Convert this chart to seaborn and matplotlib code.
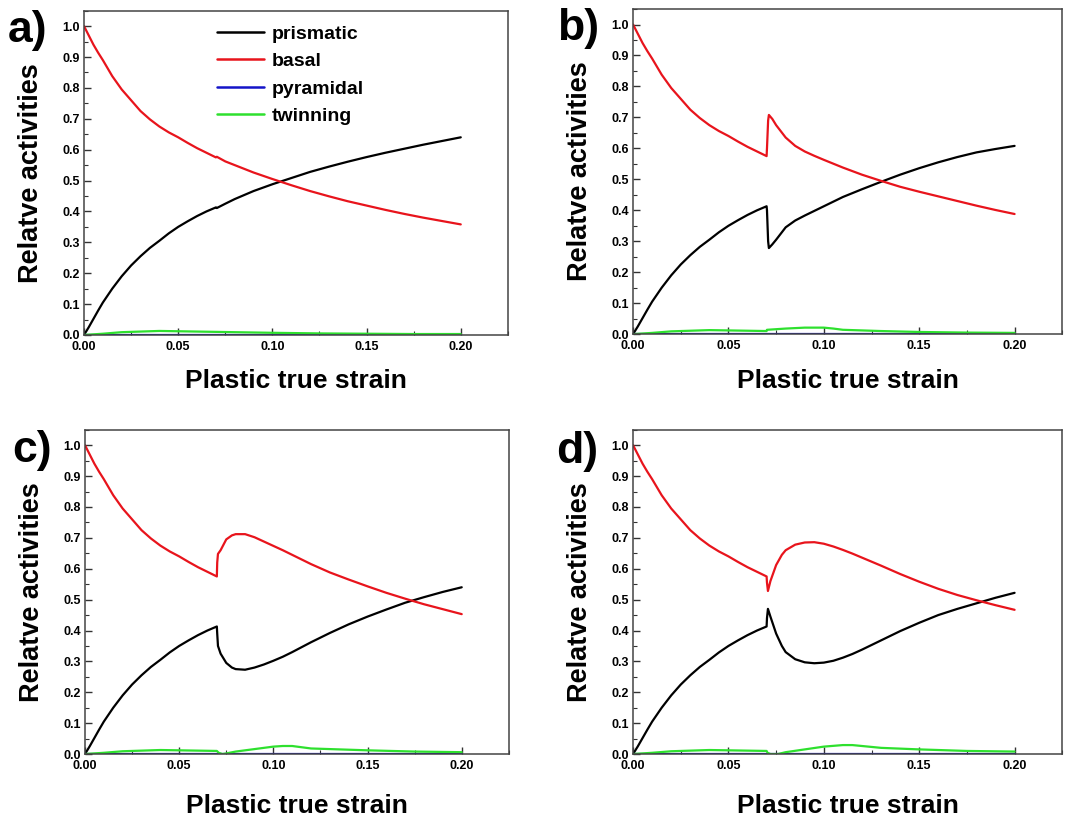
import numpy as np
import pandas as pd
import matplotlib
matplotlib.use("Agg")
import matplotlib.pyplot as plt
from matplotlib.ticker import MultipleLocator
import seaborn as sns

# ---------------- data ----------------
modes = ["prismatic", "basal", "pyramidal", "twinning"]
colors = ["black", "#e8141c", "#1414c8", "#2ee02e"]
panel_labels = ["a)", "b)", "c)", "d)"]

# common segment up to strain 0.07
pre_x = [0.0, 0.0025, 0.005, 0.0075, 0.01, 0.015, 0.02, 0.025, 0.03, 0.035,
         0.04, 0.045, 0.05, 0.055, 0.06, 0.065, 0.07]
pre_prism = [0.0, 0.025, 0.052, 0.079, 0.105, 0.150, 0.190, 0.225, 0.255, 0.282,
             0.305, 0.329, 0.350, 0.368, 0.385, 0.400, 0.413]
pre_basal = [1.0, 0.970, 0.940, 0.914, 0.890, 0.838, 0.795, 0.760, 0.725, 0.698,
             0.675, 0.656, 0.640, 0.622, 0.605, 0.590, 0.575]
pre_twin_x = [0.0, 0.01, 0.02, 0.03, 0.04, 0.05, 0.06, 0.07]
pre_twin = [0.0, 0.004, 0.009, 0.011, 0.013, 0.012, 0.011, 0.010]

# panel a)
a_x = [0.0705, 0.075, 0.08, 0.09, 0.10, 0.11, 0.12, 0.13, 0.14, 0.15, 0.16, 0.17, 0.18, 0.19, 0.20]
a_prism = [0.411, 0.425, 0.440, 0.466, 0.488, 0.508, 0.528, 0.545, 0.561, 0.576, 0.590, 0.603, 0.616, 0.628, 0.640]
a_basal = [0.577, 0.562, 0.550, 0.526, 0.505, 0.485, 0.466, 0.449, 0.433, 0.419, 0.405, 0.392, 0.380, 0.369, 0.358]
a_twin_x = [0.08, 0.10, 0.125, 0.15, 0.175, 0.20]
a_twin = [0.009, 0.007, 0.005, 0.004, 0.003, 0.003]

# panel b)
b_x = [0.0702, 0.0708, 0.0712, 0.073, 0.075, 0.08, 0.085, 0.09, 0.095, 0.10, 0.11, 0.12, 0.13,
       0.14, 0.15, 0.16, 0.17, 0.18, 0.19, 0.20]
b_prism = [0.400, 0.300, 0.278, 0.290, 0.305, 0.345, 0.367, 0.383, 0.398, 0.413, 0.443, 0.468, 0.492,
           0.515, 0.536, 0.555, 0.572, 0.587, 0.598, 0.608]
b_basal = [0.600, 0.690, 0.708, 0.695, 0.675, 0.635, 0.608, 0.590, 0.576, 0.563, 0.538, 0.515, 0.495,
           0.476, 0.460, 0.445, 0.430, 0.415, 0.401, 0.388]
b_twin_x = [0.0702, 0.08, 0.09, 0.10, 0.105, 0.11, 0.12, 0.13, 0.15, 0.175, 0.20]
b_twin = [0.014, 0.018, 0.021, 0.021, 0.018, 0.014, 0.012, 0.010, 0.007, 0.005, 0.004]

# panel c)
c_x = [0.0702, 0.0706, 0.072, 0.075, 0.078, 0.08, 0.085, 0.09, 0.095, 0.10, 0.105, 0.11, 0.12,
       0.13, 0.14, 0.15, 0.16, 0.17, 0.18, 0.19, 0.20]
c_prism = [0.390, 0.350, 0.325, 0.295, 0.280, 0.275, 0.273, 0.280, 0.290, 0.302, 0.315, 0.330, 0.362,
           0.392, 0.420, 0.445, 0.468, 0.490, 0.508, 0.525, 0.540]
c_basal = [0.620, 0.648, 0.660, 0.695, 0.708, 0.712, 0.712, 0.702, 0.688, 0.674, 0.660, 0.645, 0.615,
           0.588, 0.565, 0.543, 0.522, 0.503, 0.485, 0.469, 0.453]
c_twin_x = [0.071, 0.073, 0.075, 0.08, 0.09, 0.10, 0.105, 0.11, 0.115, 0.12, 0.13, 0.15, 0.175, 0.20]
c_twin = [0.004, 0.0, 0.002, 0.008, 0.016, 0.024, 0.026, 0.026, 0.022, 0.018, 0.016, 0.012, 0.008, 0.006]

# panel d)
d_x = [0.0702, 0.0707, 0.072, 0.075, 0.078, 0.08, 0.085, 0.09, 0.095, 0.10, 0.105, 0.11, 0.115,
       0.12, 0.13, 0.14, 0.15, 0.16, 0.17, 0.18, 0.19, 0.20]
d_prism = [0.440, 0.470, 0.445, 0.390, 0.350, 0.330, 0.307, 0.297, 0.294, 0.296, 0.302, 0.312, 0.324,
           0.338, 0.368, 0.398, 0.425, 0.450, 0.470, 0.488, 0.506, 0.522]
d_basal = [0.555, 0.528, 0.560, 0.612, 0.645, 0.660, 0.678, 0.685, 0.686, 0.681, 0.672, 0.661, 0.649,
           0.636, 0.610, 0.583, 0.558, 0.535, 0.515, 0.498, 0.482, 0.467]
d_twin_x = [0.0705, 0.072, 0.076, 0.08, 0.09, 0.10, 0.11, 0.115, 0.12, 0.13, 0.15, 0.175, 0.20]
d_twin = [0.004, 0.0, 0.0, 0.006, 0.015, 0.024, 0.029, 0.029, 0.026, 0.020, 0.015, 0.010, 0.008]

pyr_x = [0.0, 0.05, 0.10, 0.15, 0.20]
pyr_y = [0.0, 0.0, 0.0, 0.0, 0.0]

x_ticks = [0.00, 0.05, 0.10, 0.15, 0.20]
y_ticks = [0.0, 0.1, 0.2, 0.3, 0.4, 0.5, 0.6, 0.7, 0.8, 0.9, 1.0]

panels = [
    (a_x, a_prism, a_basal, a_twin_x, a_twin),
    (b_x, b_prism, b_basal, b_twin_x, b_twin),
    (c_x, c_prism, c_basal, c_twin_x, c_twin),
    (d_x, d_prism, d_basal, d_twin_x, d_twin),
]


def panel_frame(px, pp, pb, tx, tw):
    rows = []
    for x, y in zip(pre_x + px, pre_prism + pp):
        rows.append(("prismatic", x, y))
    for x, y in zip(pre_x + px, pre_basal + pb):
        rows.append(("basal", x, y))
    for x, y in zip(pyr_x, pyr_y):
        rows.append(("pyramidal", x, y))
    for x, y in zip(pre_twin_x + tx, pre_twin + tw):
        rows.append(("twinning", x, y))
    return pd.DataFrame(rows, columns=["mode", "strain", "activity"])


# ---------------- figure ----------------
sns.set_theme(style="white")
plt.rcParams["font.family"] = ["Liberation Sans", "DejaVu Sans"]
plt.rcParams["font.weight"] = "bold"
plt.rcParams["text.color"] = "black"
plt.rcParams["axes.labelcolor"] = "black"
plt.rcParams["xtick.color"] = "black"
plt.rcParams["ytick.color"] = "black"

fig = plt.figure(figsize=(10.73, 8.23), dpi=100)

ax_rects = [
    [0.0783, 0.593, 0.395, 0.394],
    [0.590, 0.594, 0.400, 0.395],
    [0.0792, 0.0838, 0.395, 0.394],
    [0.590, 0.0838, 0.400, 0.394],
]
xlabel_y = [-0.105, -0.108, -0.123, -0.123]
letter_pos = [(0.007, 0.988), (0.519, 0.990), (0.011, 0.478), (0.518, 0.476)]

palette = dict(zip(modes, colors))

for i, (rect, data) in enumerate(zip(ax_rects, panels)):
    ax = fig.add_axes(rect)
    df = panel_frame(*data)
    sns.lineplot(data=df, x="strain", y="activity", hue="mode", hue_order=modes,
                 palette=palette, estimator=None, sort=False, linewidth=1.6,
                 legend=(i == 0), ax=ax)
    ax.set_xlim(0, 0.225)
    ax.set_ylim(0, 1.05)
    ax.set_xticks(x_ticks)
    ax.set_xticklabels([f"{v:.2f}" for v in x_ticks])
    ax.set_yticks(y_ticks)
    ax.set_yticklabels([f"{v:.1f}" for v in y_ticks])
    ax.xaxis.set_minor_locator(MultipleLocator(0.025))
    ax.yaxis.set_minor_locator(MultipleLocator(0.05))
    ax.tick_params(which="both", direction="in", bottom=True, left=True,
                   top=False, right=False, color="#333333")
    ax.tick_params(which="major", length=5, width=1.0)
    ax.tick_params(which="minor", length=3, width=0.8)
    ax.tick_params(axis="x", which="major", pad=4.5, labelsize=9, labelcolor="black")
    ax.tick_params(axis="y", which="major", pad=3, labelsize=9, labelcolor="black")
    for lab in ax.get_xticklabels() + ax.get_yticklabels():
        lab.set_fontweight("bold")
    for sp in ax.spines.values():
        sp.set_color("#444444")
        sp.set_linewidth(1.1)
    ax.set_xlabel("Plastic true strain", fontsize=19, fontweight="bold", color="black")
    ax.set_ylabel("Relatve activities", fontsize=19.5, fontweight="bold", color="black")
    ax.xaxis.set_label_coords(0.5, xlabel_y[i])
    ax.xaxis.label.set_va("top")
    ax.yaxis.set_label_coords(-0.094, 0.5)
    fig.text(letter_pos[i][0], letter_pos[i][1], panel_labels[i], fontsize=32,
             fontweight="bold", va="top", ha="left", color="black")
    if i == 0:
        leg = ax.legend(loc="upper left", bbox_to_anchor=(0.313, 0.955), frameon=False,
                        fontsize=14, handlelength=2.45, handletextpad=0.4,
                        labelspacing=0.5, borderpad=0, borderaxespad=0)
        for t in leg.get_texts():
            t.set_fontweight("bold")
            t.set_color("black")
        for h in leg.get_lines():
            h.set_linewidth(1.8)

fig.savefig("out.png", dpi=100)
